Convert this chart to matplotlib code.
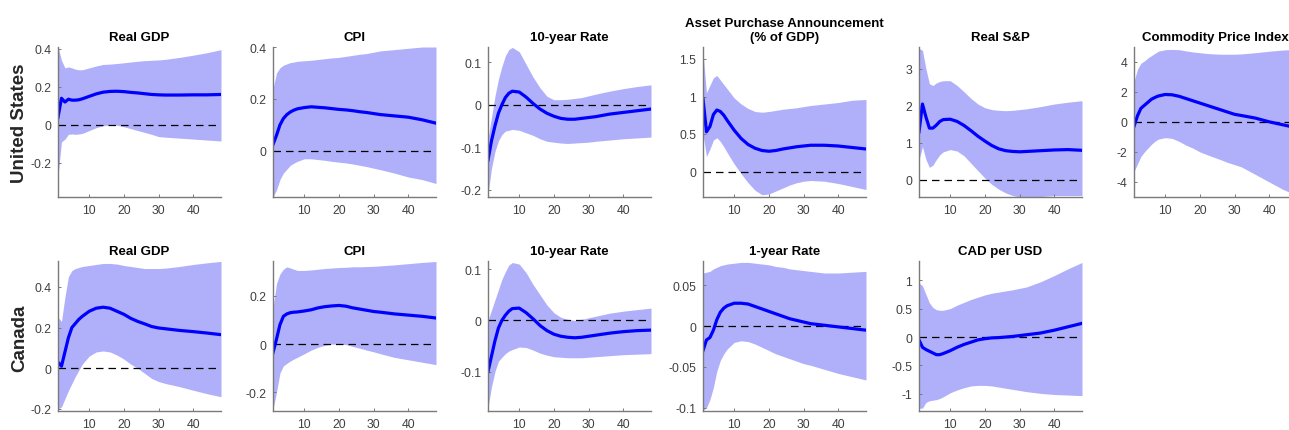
import matplotlib
matplotlib.use("Agg")
import matplotlib.pyplot as plt
import numpy as np
from matplotlib.ticker import FuncFormatter

plt.rcParams['font.family'] = ['Liberation Sans', 'DejaVu Sans']

# Horizons (months)
H = [1, 2, 3, 4, 5, 6, 7, 8, 10, 12, 14, 16, 18, 20, 22, 24, 26, 28, 30, 32, 36, 40, 44, 48]

# ---------------- United States ----------------
us_gdp_mid = [0.04, 0.14, 0.12, 0.135, 0.13, 0.13, 0.132, 0.137, 0.15, 0.163, 0.172, 0.176, 0.177, 0.175, 0.171, 0.168, 0.164, 0.16, 0.158, 0.157, 0.157, 0.158, 0.158, 0.16]
us_gdp_hi = [0.41, 0.34, 0.30, 0.305, 0.30, 0.293, 0.29, 0.29, 0.30, 0.31, 0.318, 0.32, 0.323, 0.327, 0.331, 0.335, 0.338, 0.34, 0.342, 0.345, 0.355, 0.367, 0.38, 0.396]
us_gdp_lo = [-0.27, -0.09, -0.075, -0.05, -0.048, -0.05, -0.048, -0.045, -0.03, -0.015, -0.005, 0.0, -0.002, -0.01, -0.02, -0.03, -0.04, -0.05, -0.062, -0.065, -0.07, -0.075, -0.08, -0.085]

us_cpi_mid = [0.025, 0.06, 0.1, 0.125, 0.14, 0.15, 0.157, 0.162, 0.167, 0.17, 0.168, 0.166, 0.163, 0.16, 0.158, 0.155, 0.151, 0.148, 0.144, 0.14, 0.135, 0.13, 0.12, 0.107]
us_cpi_hi = [0.24, 0.30, 0.32, 0.33, 0.335, 0.34, 0.342, 0.345, 0.347, 0.349, 0.352, 0.355, 0.358, 0.36, 0.364, 0.368, 0.372, 0.375, 0.38, 0.385, 0.39, 0.395, 0.4, 0.4]
us_cpi_lo = [-0.177, -0.15, -0.11, -0.085, -0.07, -0.055, -0.047, -0.04, -0.03, -0.03, -0.033, -0.036, -0.04, -0.043, -0.046, -0.05, -0.055, -0.06, -0.066, -0.072, -0.085, -0.1, -0.11, -0.125]

us_10y_mid = [-0.13, -0.085, -0.05, -0.02, 0.0, 0.017, 0.027, 0.032, 0.03, 0.018, 0.003, -0.01, -0.02, -0.027, -0.032, -0.034, -0.034, -0.032, -0.03, -0.028, -0.022, -0.018, -0.014, -0.01]
us_10y_hi = [-0.08, -0.03, 0.02, 0.06, 0.09, 0.115, 0.13, 0.135, 0.125, 0.095, 0.065, 0.04, 0.02, 0.012, 0.012, 0.013, 0.015, 0.017, 0.021, 0.025, 0.032, 0.038, 0.043, 0.047]
us_10y_lo = [-0.21, -0.15, -0.11, -0.085, -0.07, -0.062, -0.06, -0.058, -0.06, -0.066, -0.072, -0.08, -0.086, -0.088, -0.09, -0.091, -0.09, -0.089, -0.088, -0.086, -0.083, -0.08, -0.078, -0.076]

us_asset_mid = [0.97, 0.53, 0.6, 0.76, 0.82, 0.8, 0.75, 0.68, 0.55, 0.44, 0.36, 0.31, 0.28, 0.27, 0.28, 0.3, 0.315, 0.33, 0.34, 0.35, 0.35, 0.34, 0.32, 0.3]
us_asset_hi = [1.58, 1.05, 1.15, 1.25, 1.28, 1.22, 1.16, 1.1, 0.98, 0.9, 0.84, 0.8, 0.79, 0.8, 0.815, 0.83, 0.84, 0.85, 0.865, 0.88, 0.9, 0.92, 0.95, 0.96]
us_asset_lo = [0.5, 0.2, 0.3, 0.42, 0.45, 0.4, 0.33, 0.25, 0.1, -0.03, -0.15, -0.25, -0.31, -0.3, -0.26, -0.22, -0.18, -0.15, -0.13, -0.12, -0.13, -0.16, -0.2, -0.24]

us_sp_mid = [1.3, 2.05, 1.7, 1.4, 1.4, 1.48, 1.58, 1.63, 1.64, 1.58, 1.47, 1.33, 1.18, 1.05, 0.93, 0.84, 0.79, 0.77, 0.76, 0.77, 0.79, 0.81, 0.82, 0.8]
us_sp_hi = [3.55, 3.5, 3.0, 2.6, 2.55, 2.62, 2.66, 2.68, 2.68, 2.55, 2.38, 2.2, 2.05, 1.95, 1.9, 1.88, 1.87, 1.88, 1.9, 1.92, 1.98, 2.05, 2.1, 2.14]
us_sp_lo = [0.55, 0.9, 0.55, 0.34, 0.4, 0.55, 0.68, 0.76, 0.82, 0.78, 0.65, 0.45, 0.25, 0.05, -0.12, -0.25, -0.35, -0.42, -0.46, -0.46, -0.45, -0.42, -0.42, -0.42]

us_com_mid = [-0.3, 0.4, 0.9, 1.1, 1.3, 1.5, 1.62, 1.72, 1.82, 1.8, 1.7, 1.55, 1.4, 1.25, 1.1, 0.95, 0.8, 0.65, 0.5, 0.42, 0.25, 0.0, -0.2, -0.4]
us_com_hi = [2.7, 3.5, 3.9, 4.05, 4.25, 4.4, 4.55, 4.7, 4.8, 4.82, 4.8, 4.72, 4.65, 4.6, 4.55, 4.52, 4.5, 4.5, 4.5, 4.52, 4.6, 4.7, 4.78, 4.82]
us_com_lo = [-3.3, -2.8, -2.3, -2.0, -1.75, -1.5, -1.3, -1.15, -1.05, -1.1, -1.3, -1.55, -1.75, -2.0, -2.18, -2.35, -2.52, -2.7, -2.85, -3.0, -3.5, -4.0, -4.5, -4.9]

# ---------------- Canada ----------------
ca_gdp_mid = [0.03, 0.01, 0.08, 0.15, 0.2, 0.22, 0.24, 0.255, 0.28, 0.295, 0.3, 0.295, 0.28, 0.265, 0.245, 0.23, 0.218, 0.205, 0.198, 0.194, 0.186, 0.18, 0.173, 0.165]
ca_gdp_hi = [0.25, 0.23, 0.35, 0.45, 0.48, 0.49, 0.495, 0.5, 0.505, 0.51, 0.515, 0.515, 0.512, 0.505, 0.5, 0.495, 0.49, 0.49, 0.49, 0.492, 0.5, 0.51, 0.518, 0.525]
ca_gdp_lo = [-0.2, -0.19, -0.15, -0.11, -0.075, -0.04, -0.01, 0.02, 0.06, 0.08, 0.085, 0.08, 0.065, 0.045, 0.02, 0.0, -0.025, -0.05, -0.065, -0.075, -0.09, -0.108, -0.125, -0.14]

ca_cpi_mid = [-0.035, 0.02, 0.08, 0.115, 0.125, 0.13, 0.132, 0.133, 0.137, 0.142, 0.15, 0.155, 0.158, 0.16, 0.157, 0.15, 0.145, 0.14, 0.135, 0.132, 0.125, 0.12, 0.115, 0.108]
ca_cpi_hi = [0.15, 0.25, 0.29, 0.31, 0.32, 0.315, 0.31, 0.305, 0.305, 0.307, 0.31, 0.313, 0.315, 0.317, 0.318, 0.32, 0.32, 0.321, 0.322, 0.324, 0.328, 0.333, 0.338, 0.342]
ca_cpi_lo = [-0.27, -0.2, -0.12, -0.09, -0.08, -0.07, -0.062, -0.055, -0.04, -0.025, -0.013, -0.005, 0.0, 0.0, -0.002, -0.01, -0.017, -0.025, -0.032, -0.04, -0.055, -0.065, -0.075, -0.085]

ca_10y_mid = [-0.1, -0.07, -0.04, -0.015, 0.0, 0.01, 0.018, 0.023, 0.024, 0.015, 0.003, -0.01, -0.02, -0.027, -0.031, -0.033, -0.034, -0.033, -0.031, -0.029, -0.025, -0.022, -0.02, -0.019]
ca_10y_hi = [0.0, 0.02, 0.04, 0.06, 0.08, 0.095, 0.108, 0.113, 0.11, 0.093, 0.07, 0.05, 0.03, 0.015, 0.006, 0.002, 0.0, 0.002, 0.005, 0.008, 0.014, 0.018, 0.021, 0.024]
ca_10y_lo = [-0.17, -0.13, -0.1, -0.08, -0.072, -0.065, -0.06, -0.057, -0.052, -0.053, -0.058, -0.064, -0.068, -0.071, -0.072, -0.073, -0.073, -0.073, -0.072, -0.071, -0.069, -0.067, -0.066, -0.065]

ca_1y_mid = [-0.03, -0.017, -0.014, -0.005, 0.008, 0.017, 0.022, 0.025, 0.028, 0.028, 0.027, 0.024, 0.021, 0.018, 0.015, 0.012, 0.009, 0.007, 0.005, 0.003, 0.001, -0.001, -0.003, -0.005]
ca_1y_hi = [0.065, 0.066, 0.067, 0.07, 0.072, 0.074, 0.075, 0.076, 0.077, 0.078, 0.078, 0.077, 0.076, 0.075, 0.073, 0.072, 0.07, 0.069, 0.068, 0.067, 0.065, 0.065, 0.066, 0.067]
ca_1y_lo = [-0.103, -0.1, -0.09, -0.075, -0.055, -0.042, -0.034, -0.028, -0.02, -0.018, -0.019, -0.022, -0.026, -0.03, -0.034, -0.037, -0.04, -0.043, -0.046, -0.048, -0.053, -0.058, -0.062, -0.066]

ca_cad_mid = [-0.05, -0.18, -0.22, -0.25, -0.28, -0.31, -0.31, -0.29, -0.24, -0.18, -0.13, -0.09, -0.05, -0.03, -0.015, -0.01, 0.0, 0.01, 0.025, 0.04, 0.07, 0.12, 0.18, 0.24]
ca_cad_hi = [0.95, 0.9, 0.75, 0.6, 0.52, 0.48, 0.47, 0.47, 0.5, 0.56, 0.61, 0.66, 0.7, 0.74, 0.77, 0.79, 0.81, 0.83, 0.855, 0.88, 0.97, 1.08, 1.2, 1.31]
ca_cad_lo = [-1.25, -1.25, -1.15, -1.12, -1.11, -1.1, -1.08, -1.05, -0.98, -0.93, -0.89, -0.86, -0.85, -0.85, -0.86, -0.88, -0.9, -0.92, -0.94, -0.96, -0.99, -1.01, -1.02, -1.03]

us_titles = ["Real GDP", "CPI", "10-year Rate", "Asset Purchase Announcement\n(% of GDP)", "Real S&P", "Commodity Price Index"]
ca_titles = ["Real GDP", "CPI", "10-year Rate", "1-year Rate", "CAD per USD"]
row_labels = ["United States", "Canada"]
x_ticks = [10, 20, 30, 40]

us_series = [(us_gdp_mid, us_gdp_lo, us_gdp_hi), (us_cpi_mid, us_cpi_lo, us_cpi_hi),
             (us_10y_mid, us_10y_lo, us_10y_hi), (us_asset_mid, us_asset_lo, us_asset_hi),
             (us_sp_mid, us_sp_lo, us_sp_hi), (us_com_mid, us_com_lo, us_com_hi)]
ca_series = [(ca_gdp_mid, ca_gdp_lo, ca_gdp_hi), (ca_cpi_mid, ca_cpi_lo, ca_cpi_hi),
             (ca_10y_mid, ca_10y_lo, ca_10y_hi), (ca_1y_mid, ca_1y_lo, ca_1y_hi),
             (ca_cad_mid, ca_cad_lo, ca_cad_hi)]

us_ylims = [(-0.38, 0.41), (-0.177, 0.40), (-0.217, 0.136), (-0.34, 1.66), (-0.46, 3.59), (-5.0, 4.98)]
us_yticks = [[-0.2, 0, 0.2, 0.4], [0, 0.2, 0.4], [-0.2, -0.1, 0, 0.1], [0, 0.5, 1, 1.5], [0, 1, 2, 3], [-4, -2, 0, 2, 4]]
ca_ylims = [(-0.21, 0.527), (-0.277, 0.344), (-0.177, 0.116), (-0.104, 0.0797), (-1.3, 1.336)]
ca_yticks = [[-0.2, 0, 0.2, 0.4], [-0.2, 0, 0.2], [-0.1, 0, 0.1], [-0.1, -0.05, 0, 0.05], [-1, -0.5, 0, 0.5, 1]]

W, Hpx = 1289, 431
fig = plt.figure(figsize=(W / 100, Hpx / 100), dpi=100)

lefts = [58, 273, 488, 703, 919, 1134]
aw, ah = 163, 150
row_bottoms = [198, 412]

band_col = '#b0b0fa'
line_col = '#0000ff'
axis_col = '#7a7a7a'
tick_col = '#404040'

fmt = FuncFormatter(lambda v, p: ('%g' % v))


def draw(ax, series, ylim, yticks, title):
    mid, lo, hi = series
    ax.fill_between(H, lo, hi, color=band_col, linewidth=0)
    ax.axhline(0, color='black', linestyle=(0, (6, 4)), linewidth=0.9)
    ax.plot(H, mid, color=line_col, linewidth=2.3)
    ax.set_xlim(1, 48)
    ax.set_ylim(*ylim)
    ax.set_xticks(x_ticks)
    ax.set_yticks(yticks)
    ax.yaxis.set_major_formatter(fmt)
    for s in ['top', 'right']:
        ax.spines[s].set_visible(False)
    for s in ['left', 'bottom']:
        ax.spines[s].set_color(axis_col)
        ax.spines[s].set_linewidth(1.0)
    ax.tick_params(direction='in', length=2, width=0.7, colors=axis_col,
                   labelcolor=tick_col, labelsize=8.8, pad=5)
    ax.set_title(title, fontsize=9.5, fontweight='bold', pad=5, linespacing=1.25)


for r, (series_list, ylims, yticks, titles) in enumerate([
        (us_series, us_ylims, us_yticks, us_titles),
        (ca_series, ca_ylims, ca_yticks, ca_titles)]):
    for i, ser in enumerate(series_list):
        left = lefts[i] / W
        bottom = 1 - row_bottoms[r] / Hpx
        ax = fig.add_axes([left, bottom, aw / W, ah / Hpx])
        draw(ax, ser, ylims[i], yticks[i], titles[i])

# Row labels
fig.text(20 / W, 1 - 123 / Hpx, row_labels[0], rotation=90, fontsize=13.5,
         fontweight='bold', ha='center', va='center', color='#262626')
fig.text(20 / W, 1 - 338 / Hpx, row_labels[1], rotation=90, fontsize=13.5,
         fontweight='bold', ha='center', va='center', color='#262626')

fig.savefig('out.png', dpi=100)
